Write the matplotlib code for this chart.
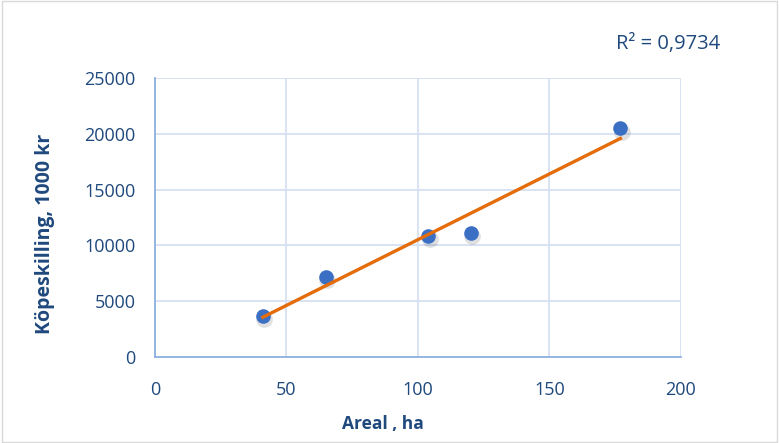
import matplotlib.pyplot as plt
import numpy as np
from matplotlib.patches import Rectangle

areal = np.array([41, 65, 104, 120, 177])
kopeskilling = np.array([3700, 7200, 10850, 11150, 20500])
x_ticks = [0, 50, 100, 150, 200]
y_ticks = [0, 5000, 10000, 15000, 20000, 25000]

text_col = "#1F497D"
plt.rcParams['font.family'] = ['Open Sans', 'DejaVu Sans']

fig = plt.figure(figsize=(7.79, 4.43), dpi=100)
ax = fig.add_axes([0.199, 0.194, 0.675, 0.630])

# linear trend line over data range
k, m = np.polyfit(areal, kopeskilling, 1)
xs = np.array([areal.min(), areal.max()])
ax.plot(xs, k * xs + m, color="#E46C0A", linewidth=2.4, zorder=3)

# soft shadow then markers
ax.plot(areal + 0.5, kopeskilling - 300, 'o', color="#000000", alpha=0.12,
        markersize=12, markeredgewidth=0, zorder=2)
ax.plot(areal, kopeskilling, 'o', color="#3A6FC4", markersize=10.5,
        markeredgewidth=0, zorder=2)

ax.set_xlim(0, 200)
ax.set_ylim(0, 25000)
ax.set_xticks(x_ticks)
ax.set_yticks(y_ticks)
ax.grid(True, color="#D6E1F2", linewidth=1.3)
ax.set_axisbelow(True)
for s in ["top", "right"]:
    ax.spines[s].set_visible(False)
for s in ["left", "bottom"]:
    ax.spines[s].set_color("#8EB1E0")
    ax.spines[s].set_linewidth(1.3)
ax.tick_params(length=0, labelsize=13, labelcolor=text_col)
ax.tick_params(axis='x', pad=17)
ax.tick_params(axis='y', pad=14)

fig.text(0.492, 0.043, "Areal , ha", fontsize=12.5, fontweight="bold", color=text_col,
         ha="center", va="center")
fig.text(0.058, 0.472, "Köpeskilling, 1000 kr", fontsize=14, fontweight="bold", color=text_col,
         ha="center", va="center", rotation=90)

fig.text(0.858, 0.9, "R² = 0,9734", fontsize=14.5, color=text_col, ha="center", va="center")

fig.patches.append(Rectangle((0.003, 0.003), 0.994, 0.994, transform=fig.transFigure,
                             fill=False, edgecolor="#D9D9D9", linewidth=1))

fig.savefig("out.png", dpi=100)
